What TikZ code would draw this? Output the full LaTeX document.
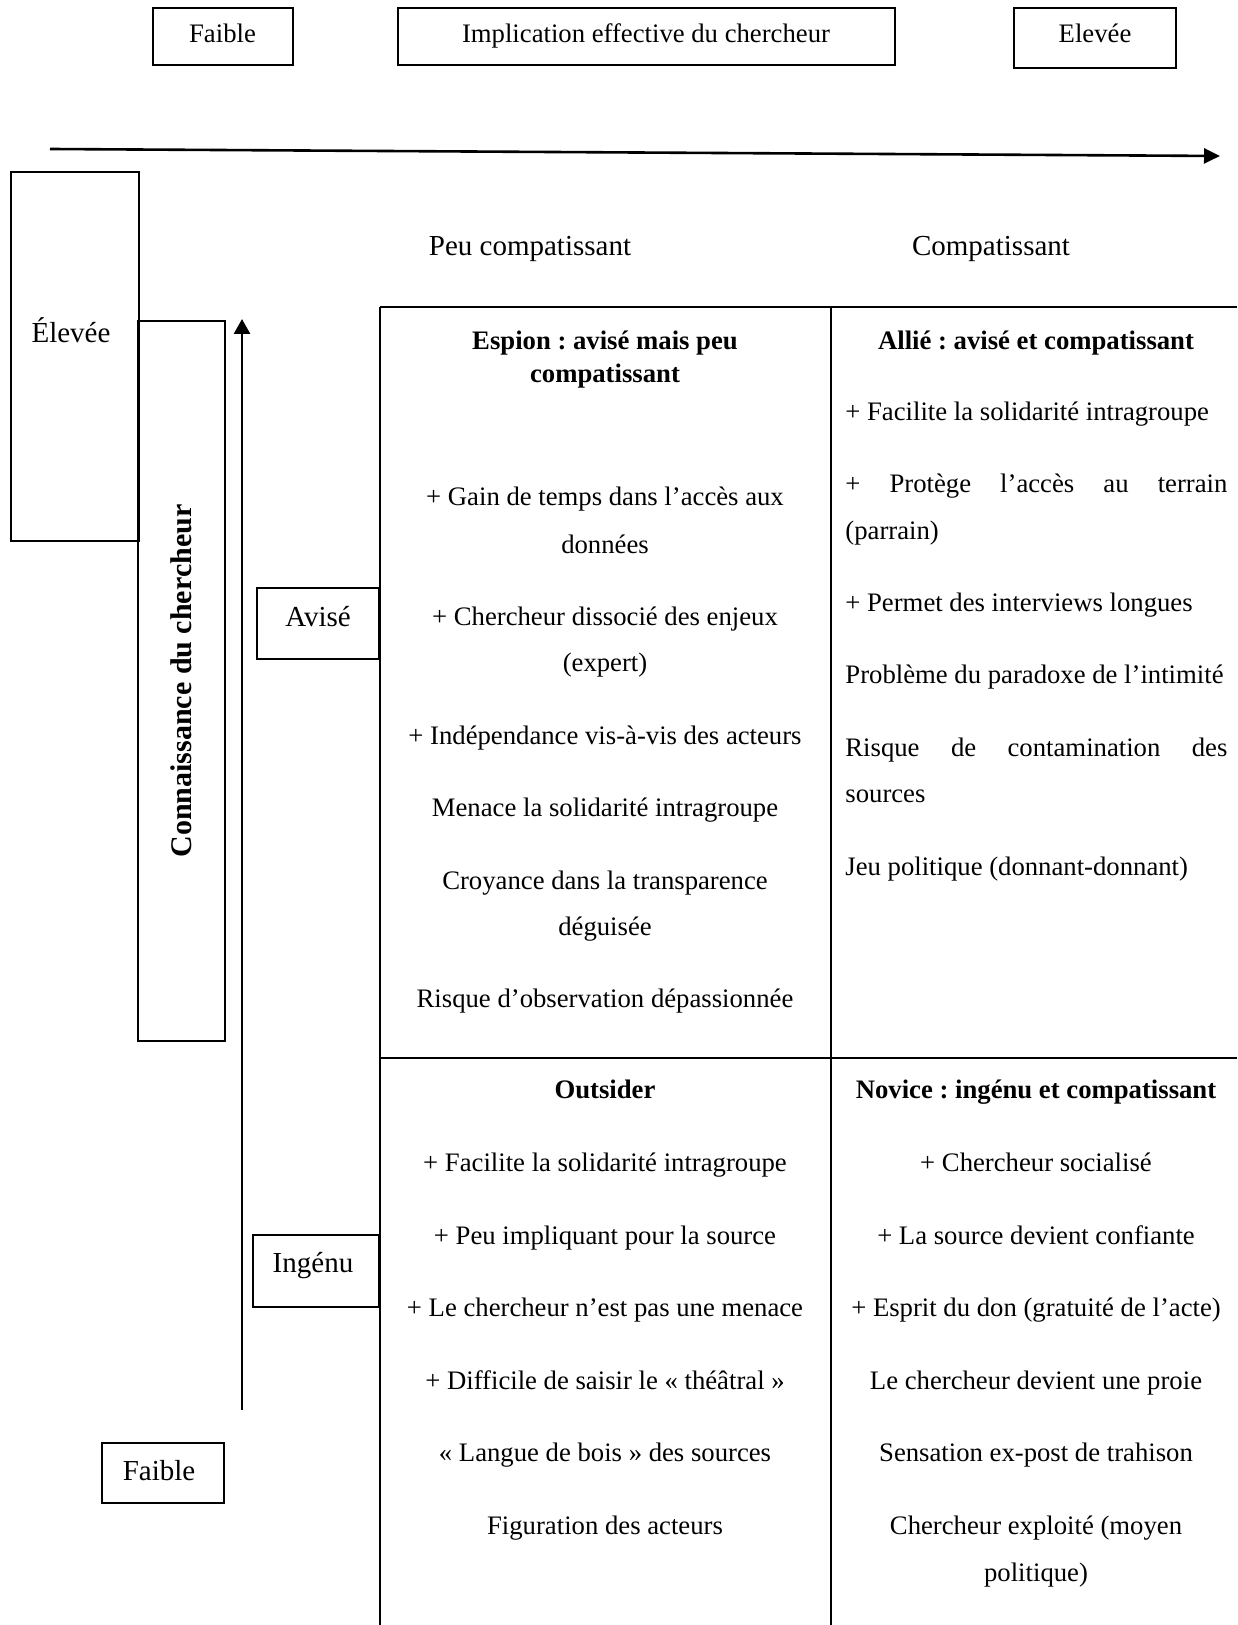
\documentclass[tikz,border=0pt]{standalone}
\usepackage{fontspec}
\setmainfont{Liberation Serif}
\usetikzlibrary{arrows.meta}
\frenchspacing
\begin{document}
\begin{tikzpicture}[x=0.5pt,y=-0.5pt,
  box/.style={draw, line width=0.7pt, inner sep=0pt},
  txt/.style={font=\fontsize{13.35}{16}\selectfont, inner sep=0pt, anchor=base},
  txtl/.style={txt, anchor=base west},
  hd/.style={font=\fontsize{13.35}{16}\selectfont\bfseries, inner sep=0pt, anchor=base},
  big/.style={font=\fontsize{14.5}{17}\selectfont, inner sep=0pt, anchor=base},
  rulel/.style={line width=1.1pt},
  arr/.style={line width=1.3pt, -{Triangle[length=8pt,width=7.5pt]}}]
\useasboundingbox (0,0) rectangle (1237,1625);

% top boxes
\node[box, minimum width=70pt, minimum height=28.5pt] (bFaible) at (223,36.5) {};
\node[txt] (tFaible) at (222.5,43) {Faible};
\node[box, minimum width=248.5pt, minimum height=28.5pt] (bImpl) at (646.5,36.5) {};
\node[txt] (tImpl) at (646,43) {Implication effective du chercheur};
\node[box, minimum width=81pt, minimum height=30pt] (bElev) at (1095,38) {};
\node[txt] (tElev) at (1095,43) {Elevée};

% horizontal arrow
\coordinate (hs) at (50,149);
\coordinate (he) at (1220,156);
\draw[arr] (hs) -- (he);

% column headers
\node[big] (cPeu) at (530,256) {Peu compatissant};
\node[big] (cComp) at (991,256) {Compatissant};

% left side
\node[box, minimum width=64pt, minimum height=184.5pt] (bElevL) at (75,356.5) {};
\node[big] (tElevL) at (71,343) {Élevée};
\node[box, rotate=90, minimum width=360pt, minimum height=43.5pt,
      font=\fontsize{15}{18}\selectfont\bfseries] (conn) at (181.5,681) {Connaissance du chercheur};
\coordinate (vs) at (242,1410);
\coordinate (ve) at (242,319);
\draw[line width=1.3pt, -{Triangle[length=7.5pt,width=8pt]}] (vs) -- (ve);
\node[box, minimum width=61pt, minimum height=35.5pt] (bAvise) at (318,623.5) {};
\node[big] (tAvise) at (318,626) {Avisé};
\node[box, minimum width=63pt, minimum height=36pt] (bIngenu) at (316,1271) {};
\node[big] (tIngenu) at (313,1272) {Ingénu};
\node[box, minimum width=61pt, minimum height=30pt] (bFaibleL) at (163,1473) {};
\node[big] (tFaibleL) at (159,1480) {Faible};

% table rules
\coordinate (t1) at (380,307);
\coordinate (t2) at (1237,307);
\coordinate (t3) at (380,1625);
\coordinate (t4) at (831,307);
\coordinate (t5) at (831,1625);
\coordinate (t6) at (380,1058);
\coordinate (t7) at (1237,1058);
\draw[rulel] (t1) -- (t2);
\draw[rulel] (t1) -- (t3);
\draw[rulel] (t4) -- (t5);
\draw[rulel] (t6) -- (t7);

% top left cell
\node[hd] (a0) at (605,350) {Espion : avisé mais peu};
\node[hd] (a1) at (605,383) {compatissant};
\node[txt] (a2) at (605,506) {+ Gain de temps dans l’accès aux};
\node[txt] (a3) at (605,553) {données};
\node[txt] (a4) at (605,625) {+ Chercheur dissocié des enjeux};
\node[txt] (a5) at (605,671) {(expert)};
\node[txt] (a6) at (605,744) {+ Indépendance vis-à-vis des acteurs};
\node[txt] (a7) at (605,816) {Menace la solidarité intragroupe};
\node[txt] (a8) at (605,889) {Croyance dans la transparence};
\node[txt] (a9) at (605,935) {déguisée};
\node[txt] (a10) at (605,1007) {Risque d’observation dépassionnée};

% top right cell
\node[hd] (b0) at (1036,350) {Allié : avisé et compatissant};
\node[txtl] (b1) at (845,421) {+ Facilite la solidarité intragroupe};
\node[txtl] (b2) at (845,493) {\makebox[191pt][s]{+ Protège l’accès au terrain}};
\node[txtl] (b3) at (845,539) {(parrain)};
\node[txtl] (b4) at (845,611) {+ Permet des interviews longues};
\node[txtl] (b5) at (845,683) {Problème du paradoxe de l’intimité};
\node[txtl] (b6) at (845,756) {\makebox[191pt][s]{Risque de contamination des}};
\node[txtl] (b7) at (845,802) {sources};
\node[txtl] (b8) at (845,875) {Jeu politique (donnant-donnant)};

% bottom left cell
\node[hd] (c0) at (605,1098) {Outsider};
\node[txt] (c1) at (605,1171) {+ Facilite la solidarité intragroupe};
\node[txt] (c2) at (605,1244) {+ Peu impliquant pour la source};
\node[txt] (c3) at (605,1316) {+ Le chercheur n’est pas une menace};
\node[txt] (c4) at (605,1389) {+ Difficile de saisir le «~théâtral~»};
\node[txt] (c5) at (605,1461) {«~Langue de bois~» des sources};
\node[txt] (c6) at (605,1534) {Figuration des acteurs};

% bottom right cell
\node[hd] (d0) at (1036,1098) {Novice : ingénu et compatissant};
\node[txt] (d1) at (1036,1171) {+ Chercheur socialisé};
\node[txt] (d2) at (1036,1244) {+ La source devient confiante};
\node[txt] (d3) at (1036,1316) {+ Esprit du don (gratuité de l’acte)};
\node[txt] (d4) at (1036,1389) {Le chercheur devient une proie};
\node[txt] (d5) at (1036,1461) {Sensation ex-post de trahison};
\node[txt] (d6) at (1036,1534) {Chercheur exploité (moyen};
\node[txt] (d7) at (1036,1581) {politique)};
\end{tikzpicture}
\end{document}
